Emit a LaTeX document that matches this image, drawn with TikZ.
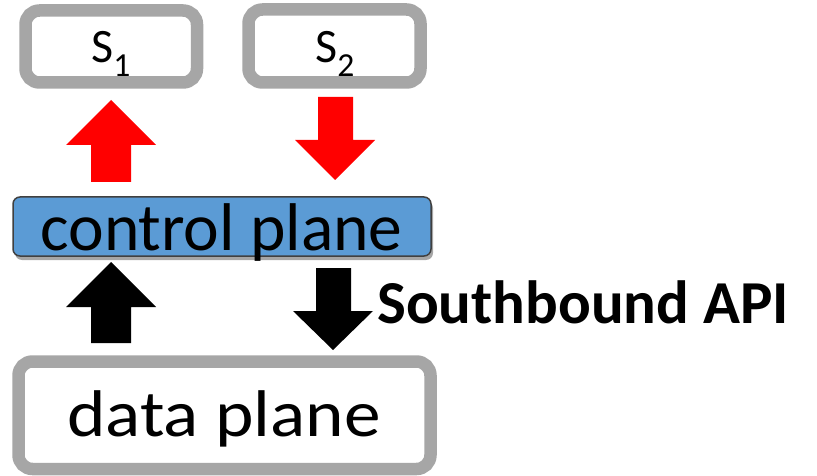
\documentclass[tikz,border=0pt]{standalone}
\usepackage{fontspec}
\setmainfont{Carlito}
\usetikzlibrary{shadows}
\definecolor{boxgray}{HTML}{A6A6A6}
\definecolor{planeblue}{HTML}{5B9BD5}
\definecolor{edgegray}{HTML}{404040}
\definecolor{arrowred}{HTML}{FF0000}
\tikzset{
  x=1pt, y=-1pt,
  graybox/.style={draw=boxgray, line width=12.5pt, rounded corners=14pt, fill=white},
  bluebox/.style={draw=edgegray, line width=1.5pt, rounded corners=7pt, fill=planeblue,
    drop shadow={shadow xshift=2pt, shadow yshift=-4pt, opacity=0.35, fill=black}},
  redblock/.style={fill=arrowred, draw=none},
  blackblock/.style={fill=black, draw=none},
  label text/.style={inner sep=0, anchor=base},
}
\begin{document}
\begin{tikzpicture}
\useasboundingbox (0,0) rectangle (817,476);

% switch boxes
\draw[graybox] (25.5,10.5) rectangle (197,82.5);
\node[label text] (s1) at (111,63) {\fontsize{48}{50}\selectfont S\textsubscript{1}};
\draw[graybox] (248.5,9.5) rectangle (420.5,82.5);
\node[label text] (s2) at (335,63) {\fontsize{48}{50}\selectfont S\textsubscript{2}};

% control plane
\draw[bluebox] (13,197) rectangle (431,256);
\node[label text] (cp) at (221.5,250) {\fontsize{67.5}{70}\selectfont control plane};

% data plane
\draw[graybox] (18.5,361.5) rectangle (430.5,469);
\node[label text, xscale=1.11] (dp) at (224,436) {\fontsize{66}{68}\selectfont data plane};

% block arrows between the planes and the switches
\fill[redblock] (91,182) -- (91,145) -- (66,145) -- (111,100) -- (156,145) -- (131,145) -- (131,182) -- cycle;
\fill[redblock] (318,97) -- (318,140) -- (295,140) -- (335,180) -- (375,140) -- (353,140) -- (353,97) -- cycle;
\fill[blackblock] (91,343) -- (91,307) -- (66,307) -- (111,262) -- (156,307) -- (131,307) -- (131,343) -- cycle;
\fill[blackblock] (316,268) -- (316,311) -- (293,311) -- (333,350) -- (373,311) -- (351,311) -- (351,268) -- cycle;

\node[inner sep=0, anchor=base west] (api) at (377,323) {\fontsize{61}{63}\selectfont\bfseries Southbound API};
\end{tikzpicture}
\end{document}
